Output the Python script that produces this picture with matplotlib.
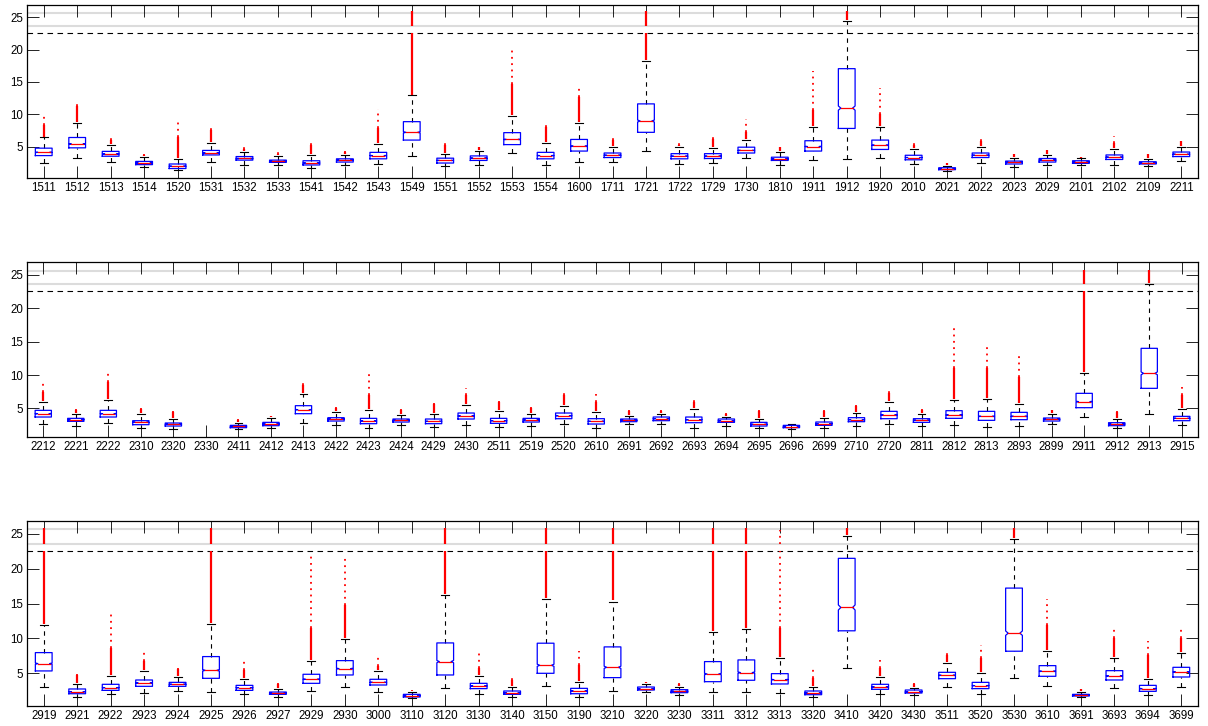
import numpy as np
import matplotlib
matplotlib.use("Agg")
import matplotlib.pyplot as plt

plt.rcParams['font.family'] = ['Liberation Sans', 'DejaVu Sans']

# ---------------------------------------------------------------------------
# Data: quartiles, whisker ends, outlier extents
# ---------------------------------------------------------------------------
labels_a = ["1511", "1512", "1513", "1514", "1520", "1531", "1532", "1533", "1541",
            "1542", "1543", "1549", "1551", "1552", "1553", "1554", "1600", "1711",
            "1721", "1722", "1729", "1730", "1810", "1911", "1912", "1920", "2010",
            "2021", "2022", "2023", "2029", "2101", "2102", "2109", "2211"]
q1_a = [3.6, 4.8, 3.5, 2.2, 1.6, 3.7, 2.9, 2.55, 2.15, 2.6, 3.1, 6.0, 2.45, 2.85, 5.3,
        3.1, 4.3, 3.3, 7.2, 3.1, 3.15, 4.0, 2.85, 4.3, 7.8, 4.55, 2.95, 1.42, 3.3, 2.3,
        2.6, 2.4, 3.0, 2.3, 3.45]
med_a = [4.1, 5.4, 3.85, 2.45, 1.95, 4.0, 3.15, 2.7, 2.45, 2.9, 3.6, 7.2, 2.85, 3.2, 6.1,
         3.6, 5.05, 3.65, 8.95, 3.5, 3.5, 4.4, 3.1, 5.0, 10.95, 5.2, 3.3, 1.57, 3.65, 2.55,
         2.9, 2.6, 3.35, 2.45, 3.8]
q3_a = [4.75, 6.4, 4.25, 2.7, 2.3, 4.4, 3.45, 2.9, 2.8, 3.1, 4.1, 8.85, 3.2, 3.55, 7.15,
        4.1, 6.1, 4.0, 11.6, 3.9, 3.9, 4.9, 3.35, 5.9, 17.05, 6.0, 3.65, 1.72, 4.0, 2.75,
        3.15, 2.8, 3.7, 2.65, 4.15]
lo_a = [2.4, 3.2, 2.6, 1.8, 1.3, 2.6, 2.2, 2.1, 1.7, 2.2, 2.3, 3.55, 2.0, 2.2, 4.0,
        2.15, 2.65, 2.55, 4.35, 2.3, 2.4, 3.15, 2.2, 2.95, 3.05, 3.2, 2.35, 1.15, 2.45,
        1.85, 2.15, 2.1, 2.2, 2.0, 2.75]
hi_a = [6.4, 8.7, 5.3, 3.4, 3.0, 5.5, 4.2, 3.5, 3.7, 3.7, 5.35, 12.9, 3.9, 4.3, 9.7,
        5.5, 8.65, 4.95, 18.2, 4.95, 4.85, 6.0, 4.1, 8.0, 24.4, 8.0, 4.55, 2.05, 4.95,
        3.3, 3.65, 3.15, 4.6, 3.05, 4.95]
dense_a = [8.3, 11.3, 6.0, 3.7, 6.5, 7.5, 4.6, 3.9, 5.3, 4.2, 7.8, 25.9, 5.3, 4.9, 14.7,
           8.0, 12.7, 6.0, 25.9, 5.3, 6.2, 7.3, 4.9, 10.6, 25.9, 10.0, 5.3, 2.4, 5.9,
           3.8, 4.4, 3.4, 5.5, 3.8, 5.8]
top_a = [10.1, 11.7, 6.4, 3.9, 9.1, 8.4, 5.1, 4.1, 5.5, 4.3, 10.8, 25.9, 5.5, 4.95, 20.2,
         8.6, 14.1, 6.55, 25.9, 5.75, 6.55, 9.2, 4.95, 16.75, 25.9, 14.1, 5.5, 2.45, 6.3,
         3.9, 4.5, 3.45, 6.65, 3.85, 5.85]

labels_b = ["2212", "2221", "2222", "2310", "2320", "2330", "2411", "2412", "2413",
            "2422", "2423", "2424", "2429", "2430", "2511", "2519", "2520", "2610",
            "2691", "2692", "2693", "2694", "2695", "2696", "2699", "2710", "2720",
            "2811", "2812", "2813", "2893", "2899", "2911", "2912", "2913", "2915"]
nan = np.nan
q1_b = [3.7, 3.05, 3.7, 2.55, 2.35, nan, 2.1, 2.4, 4.2, 3.1, 2.7, 2.95, 2.7, 3.4, 2.75,
        2.95, 3.45, 2.65, 3.0, 3.15, 2.85, 2.9, 2.35, 2.1, 2.45, 3.0, 3.45, 2.9, 3.5,
        3.2, 3.3, 3.1, 5.1, 2.4, 8.0, 3.15]
med_b = [4.2, 3.3, 4.2, 2.9, 2.6, nan, 2.3, 2.65, 4.8, 3.4, 3.1, 3.2, 3.05, 3.85, 3.15,
         3.25, 3.9, 3.05, 3.2, 3.45, 3.3, 3.15, 2.6, 2.25, 2.7, 3.3, 4.0, 3.2, 4.0, 3.8,
         3.8, 3.35, 6.0, 2.65, 10.25, 3.5]
q3_b = [4.7, 3.5, 4.7, 3.15, 2.8, nan, 2.45, 2.9, 5.4, 3.6, 3.5, 3.4, 3.4, 4.3, 3.5,
        3.5, 4.3, 3.45, 3.4, 3.7, 3.7, 3.4, 2.9, 2.45, 2.95, 3.6, 4.55, 3.45, 4.65, 4.55,
        4.4, 3.55, 7.25, 2.85, 14.0, 3.8]
lo_b = [2.6, 2.4, 2.85, 2.05, 1.9, nan, 1.9, 2.0, 2.75, 2.5, 2.0, 2.5, 2.15, 2.45, 2.15,
        2.35, 2.65, 2.0, 2.6, 2.7, 2.0, 2.4, 2.0, 1.9, 2.05, 2.4, 2.6, 2.3, 2.55, 2.2,
        2.4, 2.65, 3.65, 2.05, 4.1, 2.5]
hi_b = [6.0, 4.1, 6.2, 4.1, 3.4, nan, 2.75, 3.5, 7.1, 4.4, 4.75, 4.0, 4.1, 5.55, 4.55,
        4.1, 5.4, 4.5, 3.8, 4.2, 4.95, 3.7, 3.4, 2.65, 3.5, 4.3, 6.0, 4.2, 6.2, 6.45,
        5.7, 4.1, 10.25, 3.45, 23.65, 4.85]
dense_b = [7.5, 4.8, 9.0, 4.9, 4.5, nan, 3.3, 3.8, 8.5, 5.1, 7.0, 4.8, 5.6, 7.0, 6.0,
           5.1, 7.0, 6.0, 4.6, 4.6, 6.0, 4.2, 4.6, 2.8, 4.6, 5.4, 7.25, 4.8, 11.0, 11.0,
           9.75, 4.7, 25.75, 4.5, 25.75, 7.0]
top_b = [8.9, 4.9, 10.75, 5.0, 4.6, nan, 3.4, 3.85, 9.1, 5.2, 10.7, 4.9, 5.75, 8.1, 6.1,
         5.15, 7.9, 7.15, 4.7, 4.7, 6.8, 4.25, 4.75, 2.8, 4.75, 5.5, 8.2, 4.9, 17.5, 14.6,
         13.0, 4.75, 25.75, 4.6, 25.75, 8.25]

labels_c = ["2919", "2921", "2922", "2923", "2924", "2925", "2926", "2927", "2929",
            "2930", "3000", "3110", "3120", "3130", "3140", "3150", "3190", "3210",
            "3220", "3230", "3311", "3312", "3313", "3320", "3410", "3420", "3430",
            "3511", "3520", "3530", "3610", "3691", "3693", "3694", "3699"]
q1_c = [5.34, 2.07, 2.55, 3.13, 3.13, 4.28, 2.55, 1.98, 3.56, 4.76, 3.32, 1.6, 4.76, 2.8,
        1.98, 5.0, 2.07, 4.38, 2.6, 2.22, 3.8, 4.0, 3.47, 1.93, 11.1, 2.7, 2.17, 4.23, 2.8,
        8.17, 4.57, 1.74, 4.04, 2.41, 4.47]
med_c = [6.39, 2.36, 2.94, 3.6, 3.42, 5.43, 2.94, 2.12, 4.14, 5.67, 3.7, 1.79, 6.68, 3.18,
         2.22, 6.15, 2.46, 5.86, 2.8, 2.41, 4.9, 5.1, 4.09, 2.17, 14.45, 3.03, 2.36, 4.71,
         3.23, 10.76, 5.29, 1.88, 4.62, 2.8, 5.19]
q3_c = [7.97, 2.75, 3.42, 4.04, 3.7, 7.4, 3.27, 2.31, 4.86, 6.82, 4.14, 1.98, 9.36, 3.56,
        2.46, 9.32, 2.84, 8.79, 3.03, 2.65, 6.68, 6.92, 4.95, 2.46, 21.5, 3.42, 2.6, 5.14,
        3.7, 17.23, 6.1, 1.98, 5.38, 3.27, 5.86]
lo_c = [3.08, 1.6, 1.98, 2.22, 2.46, 2.31, 2.03, 1.64, 2.46, 2.99, 2.36, 1.4, 2.84, 2.07,
        1.64, 3.13, 1.6, 2.46, 2.27, 1.83, 2.31, 2.36, 2.17, 1.55, 5.8, 1.98, 1.88, 2.99,
        1.98, 4.38, 3.23, 1.55, 2.84, 1.93, 3.03]
hi_c = [11.95, 3.42, 4.62, 5.29, 4.42, 12.05, 4.18, 2.8, 6.77, 9.94, 5.29, 2.36, 16.18,
        4.66, 3.03, 15.65, 3.7, 15.3, 3.42, 3.03, 10.9, 11.3, 7.16, 3.03, 24.7, 4.42, 2.94,
        6.53, 5.05, 24.3, 8.21, 2.27, 7.2, 4.23, 7.9]
dense_c = [25.8, 4.7, 8.6, 6.7, 5.6, 25.8, 5.5, 3.5, 11.5, 14.8, 6.0, 2.5, 25.9, 5.7, 4.1,
           25.9, 6.2, 25.9, 3.7, 3.5, 25.9, 25.9, 11.5, 4.3, 25.86, 5.7, 3.5, 7.6, 7.2,
           25.86, 12.0, 2.7, 10.0, 7.6, 10.0]
top_c = [25.8, 4.86, 13.6, 8.1, 5.8, 25.8, 6.87, 3.66, 22.3, 21.9, 7.3, 2.55, 25.9, 7.9,
         4.28, 25.9, 8.2, 25.9, 3.8, 3.6, 25.9, 25.9, 25.5, 5.6, 25.86, 6.87, 3.56, 8.2,
         9.1, 25.86, 15.6, 2.8, 11.65, 9.65, 11.65]

Y_BOTTOM = [0.13, 0.75, 0.35]
Y_TOP = 26.9
DATA_LIM = 22.55              # dashed line: start of the compressed region
GREY_LO, GREY_HI = 23.6, 25.65

BOX_HW = 0.25
CAP_HW = 0.12


def red_segment(ax, x, y0, y1, **kw):
    """Draw an outlier run, leaving the gap between the dashed and grey lines."""
    if y1 <= y0:
        return
    if y0 < DATA_LIM and y1 > GREY_LO:
        ax.plot([x, x], [y0, DATA_LIM], **kw)
        ax.plot([x, x], [GREY_LO, y1], **kw)
    else:
        ax.plot([x, x], [y0, y1], **kw)


def draw_panel(ax, labels, q1, med, q3, lo, hi, dense, top, ybot):
    n = len(labels)
    ax.axhline(GREY_HI, color="#dcdcdc", lw=1.5, zorder=0)
    ax.axhline(GREY_LO, color="#dcdcdc", lw=1.5, zorder=0)
    ax.axhline(DATA_LIM, color="black", lw=0.8, ls=(0, (5, 4)), zorder=1)

    for i in range(n):
        x = i + 1
        if np.isnan(med[i]):
            continue
        # whiskers + caps
        wkw = dict(color="black", lw=0.8, ls=(0, (4, 4)), zorder=2)
        ax.plot([x, x], [q3[i], hi[i]], **wkw)
        ax.plot([x, x], [lo[i], q1[i]], **wkw)
        ax.plot([x - CAP_HW, x + CAP_HW], [hi[i], hi[i]], color="black", lw=0.8, zorder=2)
        ax.plot([x - CAP_HW, x + CAP_HW], [lo[i], lo[i]], color="black", lw=0.8, zorder=2)

        # notched box
        nh = 0.035 * (q3[i] - q1[i])
        ind = 0.3 * BOX_HW
        bx = [x - BOX_HW, x - BOX_HW, x - BOX_HW + ind, x - BOX_HW, x - BOX_HW,
              x + BOX_HW, x + BOX_HW, x + BOX_HW - ind, x + BOX_HW, x + BOX_HW,
              x - BOX_HW]
        by = [q1[i], med[i] - nh, med[i], med[i] + nh, q3[i],
              q3[i], med[i] + nh, med[i], med[i] - nh, q1[i], q1[i]]
        ax.plot(bx, by, color="#0000ff", lw=0.9, zorder=3)
        ax.plot([x - BOX_HW + ind, x + BOX_HW - ind], [med[i], med[i]],
                color="#ff0000", lw=0.9, zorder=4)

        # outliers: dense run, then sparse tail
        start = hi[i] + 0.15
        red_segment(ax, x, start, dense[i], color="#ff0000", lw=1.6, zorder=3,
                    solid_capstyle="butt")
        red_segment(ax, x, max(start, dense[i]), top[i], color="#ff0000", lw=1.3,
                    ls=(0, (1, 2.5)), zorder=3)

    ax.set_xlim(0.5, n + 0.5)
    ax.set_ylim(ybot, Y_TOP)
    ax.set_xticks(np.arange(1, n + 1))
    ax.set_xticklabels(labels)
    ax.set_yticks([5, 10, 15, 20, 25])
    ax.tick_params(direction="in", length=8.6, width=0.6, top=True, right=True,
                   labelsize=8.3, pad=3)
    for s in ax.spines.values():
        s.set_linewidth(0.9)


fig = plt.figure(figsize=(12.08, 7.26), dpi=100)
ax1 = fig.add_axes([0.02235, 0.7548, 0.9694, 0.2383])
ax2 = fig.add_axes([0.02235, 0.3985, 0.9694, 0.2402])
ax3 = fig.add_axes([0.02235, 0.02796, 0.9694, 0.2548])

draw_panel(ax1, labels_a, q1_a, med_a, q3_a, lo_a, hi_a, dense_a, top_a, Y_BOTTOM[0])
draw_panel(ax2, labels_b, q1_b, med_b, q3_b, lo_b, hi_b, dense_b, top_b, Y_BOTTOM[1])
draw_panel(ax3, labels_c, q1_c, med_c, q3_c, lo_c, hi_c, dense_c, top_c, Y_BOTTOM[2])

fig.savefig("out.png", dpi=100)
plt.close("all")
